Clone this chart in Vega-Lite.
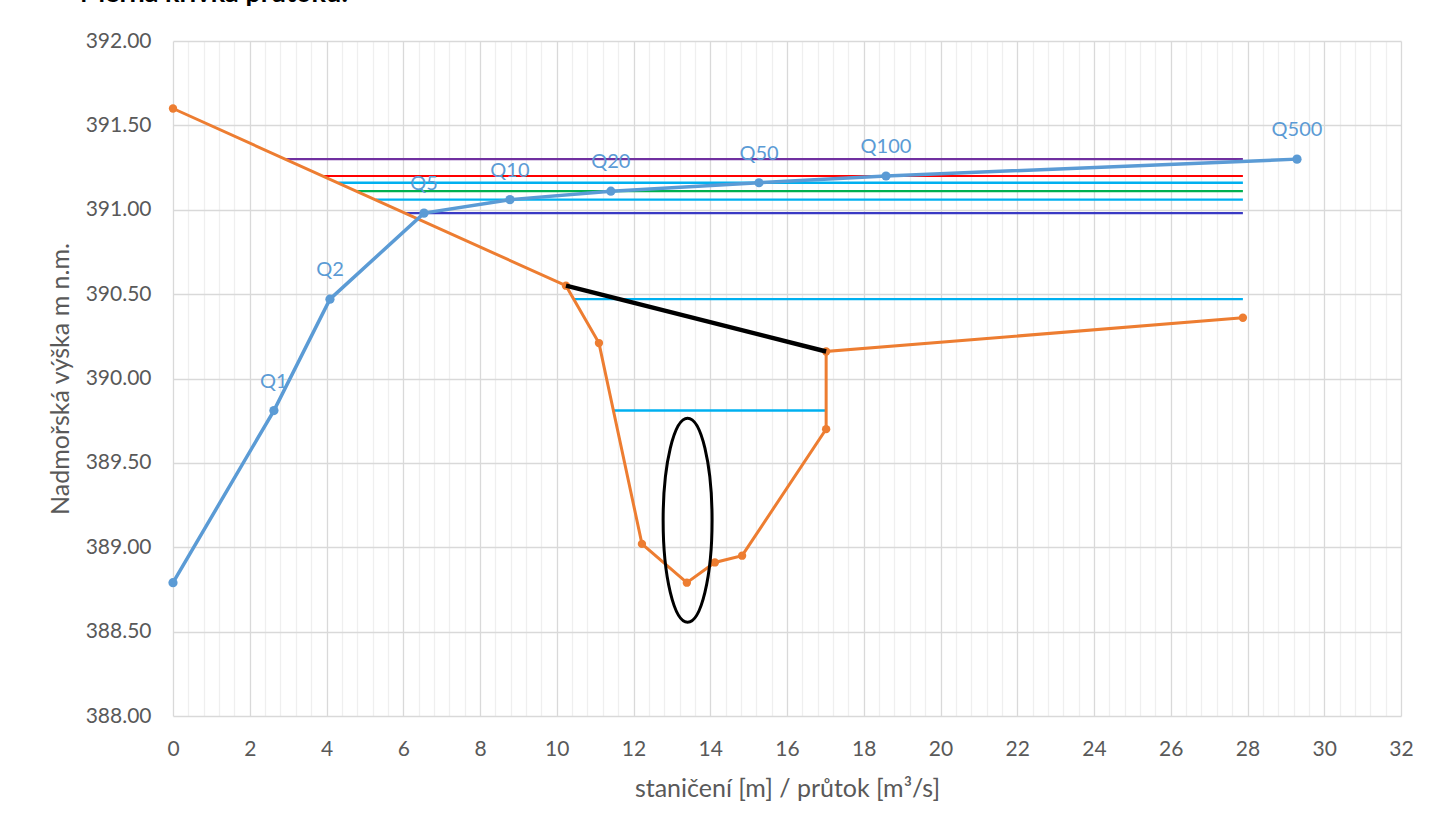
{
  "$schema": "https://vega.github.io/schema/vega-lite/v6.json",
  "autosize": {"type": "none"},
  "width": 1228,
  "height": 675,
  "padding": {"left": 173, "top": 41, "right": 28, "bottom": 110},
  "background": "white",
  "title": {"text": "Měrná křivka průtoků:", "anchor": "start", "frame": "group", "baseline": "alphabetic", "offset": 14, "dy": 13, "dx": -93, "font": "Lato", "fontSize": 27, "fontWeight": "bold", "color": "#000000"},
  "config": {
    "font": "Lato",
    "view": {"stroke": null},
    "axis": {"labelFont": "Lato", "titleFont": "Lato", "labelColor": "#595959", "titleColor": "#595959", "labelFontSize": 21, "titleFontSize": 25, "titleFontWeight": "normal", "ticks": false, "domain": false, "gridColor": "#d9d9d9", "gridWidth": 1.3, "gridOpacity": 1}
  },
  "datasets": {
    "curve": [
      {"x": 0, "y": 388.79, "label": ""},
      {"x": 2.63, "y": 389.81, "label": "Q1"},
      {"x": 4.09, "y": 390.47, "label": "Q2"},
      {"x": 6.54, "y": 390.98, "label": "Q5"},
      {"x": 8.78, "y": 391.06, "label": "Q10"},
      {"x": 11.41, "y": 391.11, "label": "Q20"},
      {"x": 15.27, "y": 391.16, "label": "Q50"},
      {"x": 18.58, "y": 391.20, "label": "Q100"},
      {"x": 29.29, "y": 391.30, "label": "Q500"}
    ],
    "section": [
      {"i": 1, "x": 0, "y": 391.60},
      {"i": 2, "x": 10.24, "y": 390.55},
      {"i": 3, "x": 11.10, "y": 390.21},
      {"i": 4, "x": 12.22, "y": 389.02},
      {"i": 5, "x": 13.39, "y": 388.79},
      {"i": 6, "x": 14.12, "y": 388.91},
      {"i": 7, "x": 14.83, "y": 388.95},
      {"i": 8, "x": 17.02, "y": 389.70},
      {"i": 9, "x": 17.02, "y": 390.16},
      {"i": 10, "x": 27.88, "y": 390.36}
    ],
    "black": [
      {"x": 10.24, "y": 390.55},
      {"x": 17.02, "y": 390.16}
    ],
    "levels": [
      {"q": "Q500", "x1": 2.94, "x2": 27.88, "y": 391.30},
      {"q": "Q100", "x1": 3.92, "x2": 27.88, "y": 391.20},
      {"q": "Q50", "x1": 4.31, "x2": 27.88, "y": 391.16},
      {"q": "Q20", "x1": 4.80, "x2": 27.88, "y": 391.11},
      {"q": "Q10", "x1": 5.29, "x2": 27.88, "y": 391.06},
      {"q": "Q5", "x1": 6.07, "x2": 27.88, "y": 390.98},
      {"q": "Q2", "x1": 10.42, "x2": 27.88, "y": 390.47},
      {"q": "Q1", "x1": 11.49, "x2": 17.02, "y": 389.81}
    ],
    "ellipse": [
      {"x": 13.41, "y": 389.16}
    ]
  },
  "layer": [
    {
      "data": {"name": "levels"},
      "mark": {"type": "rule"},
      "encoding": {
        "x": {"field": "x1", "type": "quantitative", "scale": {"domain": [0, 32], "nice": false},
          "axis": {
            "title": "staničení [m] / průtok [m³/s]",
            "values": [0,0.4,0.8,1.2,1.6,2,2.4,2.8,3.2,3.6,4,4.4,4.8,5.2,5.6,6,6.4,6.8,7.2,7.6,8,8.4,8.8,9.2,9.6,10,10.4,10.8,11.2,11.6,12,12.4,12.8,13.2,13.6,14,14.4,14.8,15.2,15.6,16,16.4,16.8,17.2,17.6,18,18.4,18.8,19.2,19.6,20,20.4,20.8,21.2,21.6,22,22.4,22.8,23.2,23.6,24,24.4,24.8,25.2,25.6,26,26.4,26.8,27.2,27.6,28,28.4,28.8,29.2,29.6,30,30.4,30.8,31.2,31.6,32],
            "tickCount": 500,
            "tickMinStep": 0.1,
            "labelExpr": "abs(datum.value/2 - round(datum.value/2)) < 0.001 ? format(datum.value, 'd') : ''",
            "gridColor": {"condition": {"test": "abs(datum.value/2 - round(datum.value/2)) < 0.001", "value": "#d9d9d9"}, "value": "#efefef"},
            "labelOverlap": false,
            "labelFlush": false,
            "labelPadding": 22,
            "titlePadding": 17
          }},
        "x2": {"field": "x2"},
        "y": {"field": "y", "type": "quantitative", "scale": {"domain": [388, 392], "nice": false, "zero": false},
          "axis": {"title": "Nadmořská výška m n.m.", "values": [388, 388.5, 389, 389.5, 390, 390.5, 391, 391.5, 392], "tickCount": 50, "tickMinStep": 0.1, "format": ".2f", "labelPadding": 22, "titlePadding": 12}},
        "color": {"field": "q", "type": "nominal", "legend": null,
          "scale": {"domain": ["Q500", "Q100", "Q50", "Q20", "Q10", "Q5", "Q2", "Q1"],
                    "range": ["#7030A0", "#FF0000", "#00B0F0", "#00B050", "#00B0F0", "#3A3AC4", "#00B0F0", "#00B0F0"]}},
        "strokeWidth": {"field": "q", "type": "nominal", "legend": null,
          "scale": {"domain": ["Q500", "Q100", "Q50", "Q20", "Q10", "Q5", "Q2", "Q1"],
                    "range": [2.2, 2.4, 3.4, 2.2, 2.2, 2.2, 2.2, 2.2]}}
      }
    },
    {
      "data": {"name": "section"},
      "mark": {"type": "line", "color": "#ED7D31", "strokeWidth": 3, "point": {"filled": true, "color": "#ED7D31", "size": 70}},
      "encoding": {
        "x": {"field": "x", "type": "quantitative"},
        "y": {"field": "y", "type": "quantitative"},
        "order": {"field": "i", "type": "quantitative"}
      }
    },
    {
      "data": {"name": "black"},
      "mark": {"type": "line", "color": "#000000", "strokeWidth": 4.5},
      "encoding": {
        "x": {"field": "x", "type": "quantitative"},
        "y": {"field": "y", "type": "quantitative"}
      }
    },
    {
      "data": {"name": "curve"},
      "mark": {"type": "line", "color": "#5B9BD5", "strokeWidth": 3.5, "point": {"filled": true, "color": "#5B9BD5", "size": 85}},
      "encoding": {
        "x": {"field": "x", "type": "quantitative"},
        "y": {"field": "y", "type": "quantitative"}
      }
    },
    {
      "data": {"name": "curve"},
      "mark": {"type": "text", "color": "#5B9BD5", "fontSize": 20, "font": "Lato", "baseline": "middle", "dy": -29},
      "encoding": {
        "x": {"field": "x", "type": "quantitative"},
        "y": {"field": "y", "type": "quantitative"},
        "text": {"field": "label"}
      }
    },
    {
      "data": {"name": "ellipse"},
      "mark": {"type": "point", "filled": false, "stroke": "#000000", "strokeWidth": 3, "opacity": 1,
        "shape": "M 0 -1 C 0.1325 -1 0.24 -0.5523 0.24 0 C 0.24 0.5523 0.1325 1 0 1 C -0.1325 1 -0.24 0.5523 -0.24 0 C -0.24 -0.5523 -0.1325 -1 0 -1 Z",
        "size": 41616},
      "encoding": {
        "x": {"field": "x", "type": "quantitative"},
        "y": {"field": "y", "type": "quantitative"}
      }
    }
  ]
}
